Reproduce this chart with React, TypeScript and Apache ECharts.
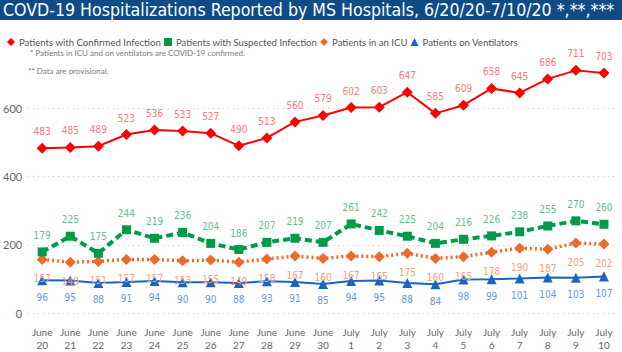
import React, { useEffect, useRef } from "react";
import * as echarts from "echarts";

const categories = [
  "June\n20", "June\n21", "June\n22", "June\n23", "June\n24", "June\n25", "June\n26",
  "June\n27", "June\n28", "June\n29", "June\n30", "July\n1", "July\n2", "July\n3",
  "July\n4", "July\n5", "July\n6", "July\n7", "July\n8", "July\n9", "July\n10",
];
const confirmed = [483, 485, 489, 523, 536, 533, 527, 490, 513, 560, 579, 602, 603, 647, 585, 609, 658, 645, 686, 711, 703];
const suspected = [179, 225, 175, 244, 219, 236, 204, 186, 207, 219, 207, 261, 242, 225, 204, 216, 226, 238, 255, 270, 260];
const icu = [157, 149, 151, 157, 157, 153, 155, 149, 158, 167, 160, 167, 165, 175, 160, 165, 178, 190, 187, 205, 202];
const vent = [96, 95, 88, 91, 94, 90, 90, 88, 93, 91, 85, 94, 95, 88, 84, 98, 99, 101, 104, 103, 107];

const titleText = "COVD-19 Hospitalizations Reported by MS Hospitals, 6/20/20-7/10/20 *,**,***";
const note1 = "* Patients in ICU and on ventilators are COVID-19 confirmed.";
const note2 = "** Data are provisional.";

const COND = "'DejaVu Sans Condensed', Roboto, sans-serif";
const UI = "Lato, 'Open Sans', sans-serif";

export default function App() {
  const ref = useRef<HTMLDivElement>(null);
  useEffect(() => {
    if (!ref.current) return;
    const chart = echarts.init(ref.current, null, { renderer: "svg" });
    const labelFont = { fontFamily: COND, fontSize: 10 };
    chart.setOption({
      animation: false,
      backgroundColor: "#ffffff",
      graphic: [
        { type: "rect", left: 0, top: 0, shape: { width: 622, height: 20 }, style: { fill: "#0F4C86" } },
        {
          type: "text", left: 3, top: 1,
          style: { text: titleText, fill: "#ffffff", font: `17.6px ${COND}` },
        },
        { type: "text", left: 30, top: 49, style: { text: note1, fill: "#7a7a7a", font: `8px ${UI}` } },
        { type: "text", left: 28, top: 67, style: { text: note2, fill: "#7a7a7a", font: `8px ${UI}` } },
      ],
      legend: {
        left: 2, top: 32,
        itemWidth: 8, itemHeight: 8, itemGap: 3,
        textStyle: { color: "#555", fontSize: 9.6, fontFamily: UI, padding: [0, 0, 0, -1] },
        data: [
          { name: "Patients with Confirmed Infection", icon: "diamond" },
          { name: "Patients with Suspected Infection", icon: "rect" },
          { name: "Patients in an ICU", icon: "diamond" },
          { name: "Patients on Ventilators", icon: "triangle" },
        ],
      },
      grid: { left: 27, right: 4, top: 40, bottom: 39 },
      xAxis: {
        type: "category",
        data: categories,
        axisLine: { show: false },
        axisTick: { show: false },
        axisLabel: { color: "#666", fontSize: 10, fontFamily: UI, lineHeight: 13, margin: 12, interval: 0 },
      },
      yAxis: {
        type: "value",
        min: 0, max: 800, interval: 200,
        axisLabel: { color: "#666", fontSize: 11, fontFamily: UI, margin: 6, showMaxLabel: false },
        splitLine: {
          lineStyle: { type: [1, 4], color: ["#c8c8c8", "#c8c8c8", "#c8c8c8", "#c8c8c8", "transparent"], width: 1 },
        },
      },
      series: [
        {
          name: "Patients with Confirmed Infection", type: "line", data: confirmed,
          symbol: "diamond", symbolSize: 11, itemStyle: { color: "#FF0000" },
          lineStyle: { color: "#FF0000", width: 2 },
          label: { show: true, position: "top", distance: 6, color: "#F47C7C", ...labelFont },
          z: 5,
        },
        {
          name: "Patients with Suspected Infection", type: "line", data: suspected,
          symbol: "rect", symbolSize: 9, itemStyle: { color: "#009B48" },
          lineStyle: { color: "#009B48", width: 4, type: [7, 4] },
          label: { show: true, position: "top", distance: 7, color: "#66BD8A", ...labelFont },
          z: 4,
        },
        {
          name: "Patients in an ICU", type: "line", data: icu,
          symbol: "diamond", symbolSize: 11, itemStyle: { color: "#EE6A2A" },
          lineStyle: { color: "#EE6A2A", width: 3.5, type: [2, 3] },
          label: { show: true, position: "bottom", distance: 9, color: "#F4A07E", ...labelFont },
          z: 3,
        },
        {
          name: "Patients on Ventilators", type: "line", data: vent,
          symbol: "triangle", symbolSize: 10, itemStyle: { color: "#1C64C2" },
          lineStyle: { color: "#1C64C2", width: 2 },
          label: { show: true, position: "bottom", distance: 7, color: "#6A98D6", ...labelFont },
          z: 2,
        },
      ],
    });
    return () => chart.dispose();
  }, []);
  return <div ref={ref} style={{ position: "fixed", left: 0, top: 0, width: 622, height: 352 }} />;
}
